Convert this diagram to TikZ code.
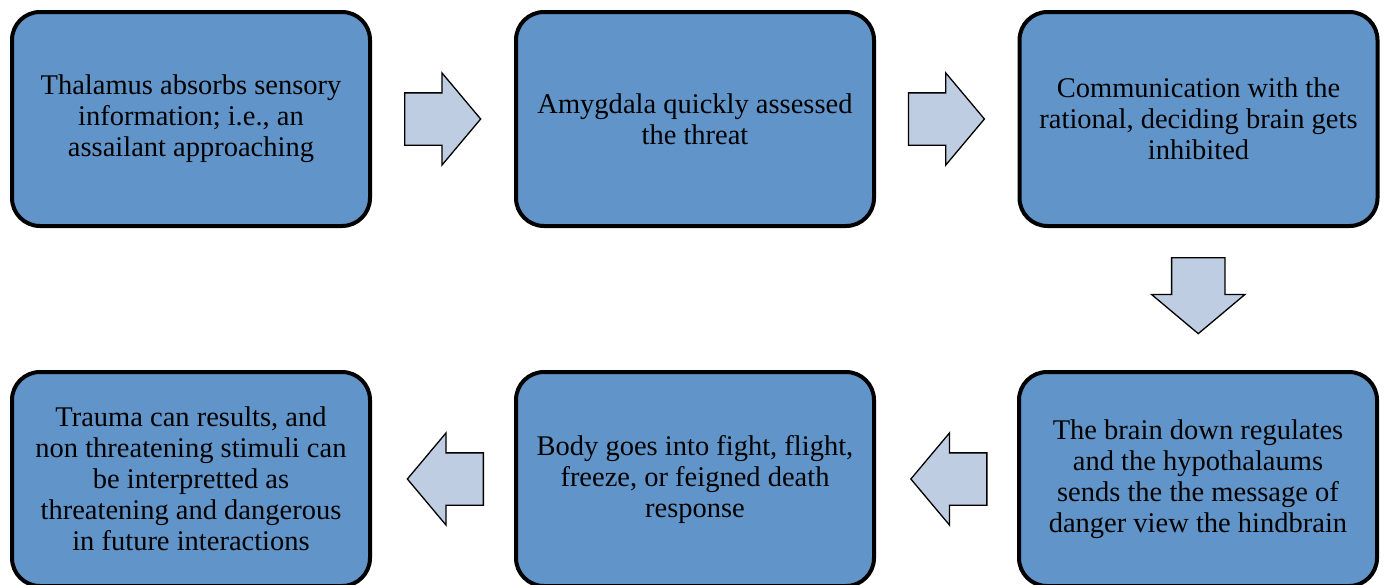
\documentclass[tikz,border=0pt]{standalone}
\usepackage{fontspec}
\setmainfont{Liberation Serif}
\usepackage{tikz}
\usetikzlibrary{calc,shapes.arrows}
\definecolor{boxblue}{HTML}{6195C9}
\definecolor{arrowfill}{HTML}{BFCDE2}
\definecolor{edge}{HTML}{000000}
\tikzset{
  stage/.style={draw=edge, fill=boxblue, line width=4pt, rounded corners=28pt,
    minimum width=358pt, minimum height=214pt, align=center, text=black,
    font=\fontsize{28.5}{31}\selectfont},
  flow/.style={single arrow, draw=edge, fill=arrowfill, line width=1.3pt,
    inner xsep=0pt, inner ysep=25.5pt, minimum height=76pt, anchor=tail,
    single arrow head extend=20pt, single arrow tip angle=100},
  flowdown/.style={flow, shape border rotate=270, inner xsep=26pt, inner ysep=0pt},
  flowleft/.style={flow, shape border rotate=180},
}

\begin{document}
\begin{tikzpicture}[x=1pt,y=-1pt]
  \useasboundingbox (0,0) rectangle (1388,584);
  % top row
  \node[stage] (thal) at (191,119) {Thalamus absorbs sensory\\information; i.e., an\\assailant approaching};
  \node[stage] (amyg) at (695,119) {Amygdala quickly assessed\\the threat};
  \node[stage] (comm) at (1198.5,119) {Communication with the\\rational, deciding brain gets\\inhibited};
  % bottom row
  \node[stage] (hypo) at (1198,479) {The brain down regulates\\and the hypothalaums\\sends the the message of\\danger view the hindbrain};
  \node[stage] (body) at (695,479) {Body goes into fight, flight,\\freeze, or feigned death\\response};
  \node[stage] (trauma) at (191,479) {Trauma can results, and\\non threatening stimuli can\\be interpretted as\\threatening and dangerous\\in future interactions};
  % block arrows, placed by their tails
  \node[flow] (a1) at ($(thal.east)!0.5!(amyg.west)+(-39,0)$) {};
  \node[flow] (a2) at ($(amyg.east)!0.5!(comm.west)+(-39,0)$) {};
  \node[flowdown] (a3) at ($(comm.south)!0.5!(hypo.north)+(0,-42)$) {};
  \node[flowleft] (a4) at ($(hypo.west)!0.5!(body.east)+(41,0)$) {};
  \node[flowleft] (a5) at ($(body.west)!0.5!(trauma.east)+(41,0)$) {};
\end{tikzpicture}
\end{document}
